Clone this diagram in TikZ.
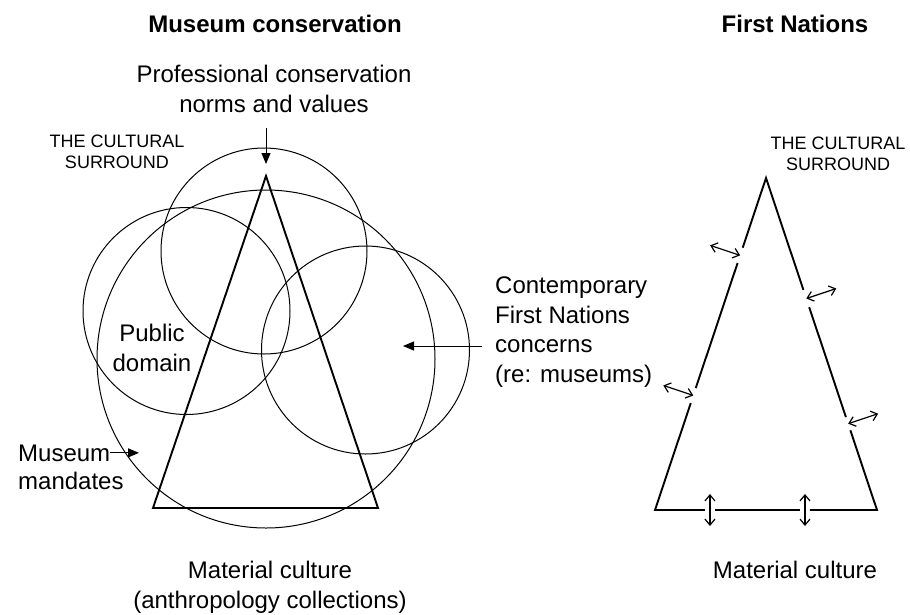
\documentclass[tikz,border=0pt]{standalone}
\usepackage{fontspec}
\setmainfont{Liberation Sans}
\usetikzlibrary{arrows.meta,calc}

\begin{document}
\begin{tikzpicture}[
  x=1pt, y=-1pt,
  lbl/.style={font=\fontsize{24}{29.5}\selectfont, inner sep=0pt, align=center},
  head/.style={font=\fontsize{24}{29}\selectfont\bfseries, inner sep=0pt},
  smalltxt/.style={font=\fontsize{18}{21}\selectfont, inner sep=0pt, align=center},
  ring/.style={line width=1pt},
  tri/.style={line width=1.9pt, line join=miter},
  arr/.style={-{Triangle[length=11pt,width=9pt]}, line width=1pt},
  dbl/.style={{Straight Barb[length=6pt,width=10pt]}-{Straight Barb[length=6pt,width=10pt]},
              line width=1.2pt},
]
\useasboundingbox (0,0) rectangle (910,614);

%% ---- Headings ----
\node[head, anchor=base] (hmc) at (275,32) {Museum conservation};
\node[head, anchor=base] (hfn) at (795,32) {First Nations};

%% ---- Left: circles and triangle ----
\draw[ring] (264,251) circle[radius=103pt];     % norms and values
\draw[ring] (266,359) circle[radius=169pt];     % museum mandates
\draw[ring] (186.5,311) circle[radius=103.5pt]; % public domain
\draw[ring] (365.5,350) circle[radius=104pt];   % First Nations concerns

\coordinate (ap) at (266,176);
\coordinate (bl) at (153,508);
\coordinate (br) at (378,508);
\draw[tri] (ap) -- (bl) -- (br) -- cycle;

%% ---- Left labels (base = last line) ----
\node[lbl, anchor=base] (prof) at (274,112) {Professional conservation\\norms and values};
\node[smalltxt, anchor=base] (surl) at (117,168) {THE CULTURAL\\SURROUND};
\node[lbl, anchor=base] (pub) at (152,371) {Public\\domain};
\node[lbl, anchor=base west, align=left] (cont) at (495,382)
  {Contemporary\\First Nations\\concerns\\(re: museums)};
\node[lbl, anchor=base west] (mus) at (18,461) {Museum};
\node[lbl, anchor=base west] (mand) at (18,489) {mandates};
\node[lbl, anchor=base] (matl) at (270,608) {Material culture\\(anthropology collections)};

\coordinate (ntip) at (266,164);
\coordinate (ctip) at (403,346);
\coordinate (mtip) at (139,452);
\draw[arr, shorten <=16pt] (ntip |- prof.south) -- (ntip);
\draw[arr, shorten <=13pt] (cont.west |- ctip) -- (ctip);
\draw[arr] (mus.east) -- (mtip |- mus.east);

%% ---- Right: open triangle ----
\coordinate (fa) at (766,178);
\coordinate (fl) at (655,510);
\coordinate (fr) at (877,510);

\draw[tri] ($(fa)!0.21!(fl)$) -- (fa) -- ($(fa)!0.337!(fr)$);
\draw[tri] ($(fa)!0.256!(fl)$) -- ($(fa)!0.633!(fl)$);
\draw[tri] ($(fa)!0.678!(fl)$) -- (fl) -- ($(fl)!0.225!(fr)$);
\draw[tri] ($(fl)!0.27!(fr)$) -- ($(fl)!0.653!(fr)$);
\draw[tri] ($(fl)!0.698!(fr)$) -- (fr) -- ($(fa)!0.76!(fr)$);
\draw[tri] ($(fa)!0.72!(fr)$) -- ($(fa)!0.389!(fr)$);

\coordinate (g1) at ($(fa)!0.233!(fl)$);
\coordinate (g2) at ($(fa)!0.655!(fl)$);
\coordinate (g3) at ($(fa)!0.363!(fr)$);
\coordinate (g4) at ($(fa)!0.74!(fr)$);
\coordinate (g5) at ($(fl)!0.2475!(fr)$);
\coordinate (g6) at ($(fl)!0.6755!(fr)$);

\draw[dbl] (g1) -- ++(-30,-10);
\draw[dbl] (g2) -- ++(-30,-10);
\draw[dbl] (g3) -- ++(30,-10);
\draw[dbl] (g4) -- ++(30,-10);
\draw[dbl] ($(g5)+(0,-16)$) -- ($(g5)+(0,16)$);
\draw[dbl] ($(g6)+(0,-16)$) -- ($(g6)+(0,16)$);

%% ---- Right labels ----
\node[smalltxt, anchor=base] (surr) at (838,170) {THE CULTURAL\\SURROUND};
\node[lbl, anchor=base] (matr) at (795,578) {Material culture};

\end{tikzpicture}
\end{document}
